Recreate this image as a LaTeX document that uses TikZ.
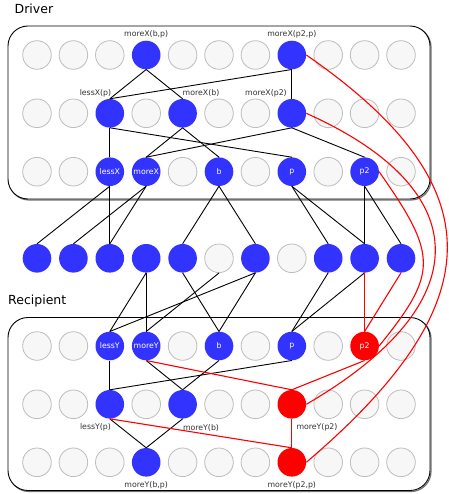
\documentclass[tikz,border=0pt]{standalone}
\usepackage{fontspec}
\setmainfont{DejaVu Sans}
\definecolor{nblue}{HTML}{3333FF}
\definecolor{nred}{HTML}{FF0000}
\definecolor{efill}{HTML}{F7F7F7}
\definecolor{edraw}{HTML}{BDBDBD}
\definecolor{lbl}{HTML}{333333}
\begin{document}
\begin{tikzpicture}[x=1pt,y=-1pt,
  base/.style={circle, minimum size=28.6pt, inner sep=0pt, font=\fontsize{7.8}{9}\selectfont, text=white},
  emp/.style={base, fill=efill, draw=edraw, line width=0.8pt},
  blu/.style={base, fill=nblue},
  rnd/.style={base, fill=nred},
  lab/.style={font=\fontsize{7.8}{9}\selectfont, text=lbl, inner sep=0pt},
  ttl/.style={font=\fontsize{12.5}{15}\selectfont, anchor=base west, inner sep=0pt},
  grp/.style={draw=black, fill=white, rounded corners=20pt, line width=0.9pt, inner sep=0pt},
  shd/.style={draw=black!55, rounded corners=20pt, line width=1.2pt, inner sep=0pt},
  e/.style={draw=black, line width=0.9pt},
  re/.style={draw=nred, line width=1.1pt}]
\useasboundingbox (0,0) rectangle (448,494);

% group boxes (with a faint shadow)
\node[shd, minimum width=422pt, minimum height=173pt] (drvshd) at (220,113.5) {};
\node[grp, minimum width=422pt, minimum height=173pt] (drvbox) at (219,112.5) {};
\node[shd, minimum width=422pt, minimum height=173pt] (recshd) at (220,405) {};
\node[grp, minimum width=422pt, minimum height=173pt] (recbox) at (219,404) {};
\node[ttl] (drvt) at (14.5,14) {Driver};
\node[ttl] (rect) at (8,304) {Recipient};

% Driver rows
\foreach \c/\s in {1/emp,2/emp,3/emp,4/blu,5/emp,6/emp,7/emp,8/blu,9/emp,10/emp,11/emp}
  \node[\s] (d1-\c) at ({37+(\c-1)*36.4},55) {};
\foreach \c/\s in {1/emp,2/emp,3/blu,4/emp,5/blu,6/emp,7/emp,8/blu,9/emp,10/emp,11/emp}
  \node[\s] (d2-\c) at ({37+(\c-1)*36.4},113.3) {};
\foreach \c/\s/\t in {1/emp/{},2/emp/{},3/blu/lessX,4/blu/moreX,5/emp/{},6/blu/b,7/emp/{},8/blu/p,9/emp/{},10/blu/p2,11/emp/{}}
  \node[\s] (d3-\c) at ({37+(\c-1)*36.4},171.7) {\t};

% middle row
\foreach \c/\s in {1/blu,2/blu,3/blu,4/blu,5/blu,6/emp,7/blu,8/emp,9/blu,10/blu,11/blu}
  \node[\s] (m-\c) at ({37+(\c-1)*36.4},258.3) {};

% Recipient rows
\foreach \c/\s/\t in {1/emp/{},2/emp/{},3/blu/lessY,4/blu/moreY,5/emp/{},6/blu/b,7/emp/{},8/blu/p,9/emp/{},10/rnd/p2,11/emp/{}}
  \node[\s] (r1-\c) at ({37+(\c-1)*36.4},346) {\t};
\foreach \c/\s in {1/emp,2/emp,3/blu,4/emp,5/blu,6/emp,7/emp,8/rnd,9/emp,10/emp,11/emp}
  \node[\s] (r2-\c) at ({37+(\c-1)*36.4},404.3) {};
\foreach \c/\s in {1/emp,2/emp,3/emp,4/blu,5/emp,6/emp,7/emp,8/rnd,9/emp,10/emp,11/emp}
  \node[\s] (r3-\c) at ({37+(\c-1)*36.4},462.3) {};

% labels
\node[lab] (l1) at (146.2,34) {moreX(b,p)};
\node[lab] (l2) at (291.8,34) {moreX(p2,p)};
\node[lab] (l3) at (95.5,93.3) {lessX(p)};
\node[lab] (l4) at (201,93.3) {moreX(b)};
\node[lab] (l5) at (266,93.3) {moreX(p2)};
\node[lab] (l6) at (95.5,427.7) {lessY(p)};
\node[lab] (l7) at (201,427.7) {moreY(b)};
\node[lab] (l8) at (317,427.7) {moreY(p2)};
\node[lab] (l9) at (146.2,485) {moreY(b,p)};
\node[lab] (l10) at (291.8,485) {moreY(p2,p)};

% Driver edges
\draw[e] (d1-4.south) -- (d2-3.north);
\draw[e] (d1-4.south) -- (d2-5.north);
\draw[e] (d1-8.south) -- (d2-3.north);
\draw[e] (d1-8.south) -- (d2-8.north);
\draw[e] (d2-3.south) -- (d3-3.north);
\draw[e] (d2-3.south) -- (d3-8.north);
\draw[e] (d2-5.south) -- (d3-4.north);
\draw[e] (d2-5.south) -- (d3-6.north);
\draw[e] (d2-8.south) -- (d3-4.north);
\draw[e] (d2-8.south) -- (d3-10.north);

% Driver to middle
\draw[e] (d3-3.south) -- (m-1.north);
\draw[e] (d3-3.south) -- (m-3.north);
\draw[e] (d3-4.south) -- (m-2.north);
\draw[e] (d3-4.south) -- (m-3.north);
\draw[e] (d3-6.south) -- (m-5.north);
\draw[e] (d3-6.south) -- (m-7.north);
\draw[e] (d3-8.south) -- (m-9.north);
\draw[e] (d3-8.south) -- (m-10.north);
\draw[e] (d3-10.south) -- (m-10.north);
\draw[e] (d3-10.south) -- (m-11.north);

% middle to Recipient
\draw[e] (m-4.south) -- (r1-3.north);
\draw[e] (m-4.south) -- (r1-4.north);
\draw[e] (m-5.south) -- (r1-6.north);
\draw[e] (m-6.south) -- (r1-4.north);
\draw[e] (m-7.south) -- (r1-3.north);
\draw[e] (m-7.south) -- (r1-6.north);
\draw[e] (m-9.south) -- (r1-8.north);
\draw[e] (m-10.south) -- (r1-8.north);
\draw[re] (m-10.south) -- (r1-10.north);
\draw[re] (m-11.south) -- (r1-10.north);

% Recipient edges
\draw[e] (r1-3.south) -- (r2-3.north);
\draw[e] (r1-8.south) -- (r2-3.north);
\draw[e] (r1-4.south) -- (r2-5.north);
\draw[e] (r1-6.south) -- (r2-5.north);
\draw[re] (r1-4.south) -- (r2-8.north);
\draw[re] (r1-10.south) -- (r2-8.north);
\draw[e] (r2-3.south) -- (r3-4.north);
\draw[e] (r2-5.south) -- (r3-4.north);
\draw[re] (r2-3.south) -- (r3-8.north);
\draw[re] (r2-8.south) -- (r3-8.north);

% long red curves
\draw[re] (d1-8.east) .. controls +(188,130) and +(188,-160) .. (r3-8.east);
\draw[re] (d2-8.east) .. controls +(172,77) and +(172,-100) .. (r2-8.east);
\draw[re] (d3-10.east) .. controls +(59,84) and +(59,-73) .. (r1-10.east);
\end{tikzpicture}
\end{document}
